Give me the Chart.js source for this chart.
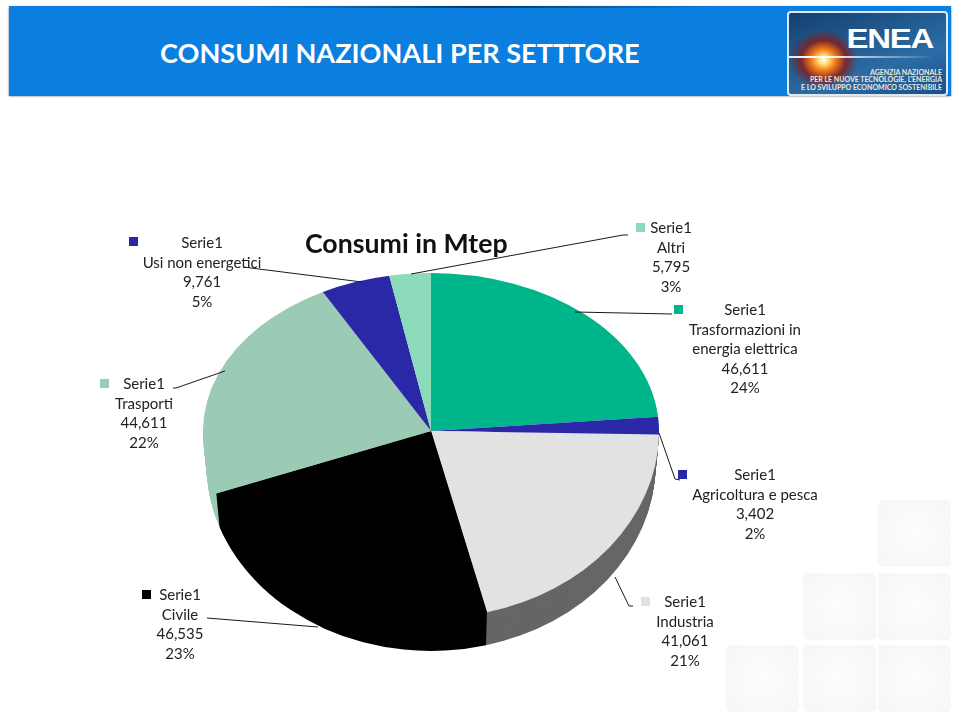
<!DOCTYPE html>
<html>
<head>
<meta charset="utf-8">
<title>Consumi nazionali per settore</title>
<script src="https://cdn.jsdelivr.net/npm/chart.js"></script>
<style>
    html, body { margin: 0; padding: 0; background: #fff; }
    #page { position: relative; width: 960px; height: 716px; overflow: hidden; font-family: Lato, sans-serif; color: #222; }
    #page > * { position: absolute; }
    #chart { left: 0; top: 0; }
    #band { left: 9px; top: 7px; width: 942px; height: 89px; background: #0a7fe0; box-shadow: 0 0 2px #567; }
    #band-edge { left: 9px; top: 6px; width: 942px; height: 2px; background: linear-gradient(90deg, #0a7fe0 25%, #0b3a5c 50%, #0a7fe0 75%); }
    #heading { left: 160px; top: 36px; color: #fff; font-size: 27.1px; line-height: 34px; font-weight: 700; white-space: nowrap; }
    #logo { left: 787px; top: 11px; width: 157px; height: 81px; border: 2px solid #dfe9f2; border-radius: 4px; overflow: hidden;
        background: radial-gradient(ellipse 34px 30px at 22% 58%, #fff 0, #ffe27a 14%, #f07a18 36%, rgba(130,30,30,.85) 66%, rgba(30,70,120,0) 100%), linear-gradient(160deg, #14406f, #2c6ca6 65%, #1b4f86); }
    #logo div { position: absolute; right: 4px; color: #eee8d8; font-size: 7px; line-height: 8px; font-weight: 700; white-space: nowrap; }
    #logo .name { top: 13px; right: 13px; color: #fff; font-family: "Liberation Sans", sans-serif; font-size: 27px; line-height: 27px; letter-spacing: -1px; transform: scaleX(1.22); transform-origin: right; }
    #logo .streak { left: 0; right: 12px; top: 43px; height: 2px; background: linear-gradient(90deg, #dfeeff, #fff 25%, rgba(255,255,255,0)); }
    #chart-title { left: 305px; top: 226px; font-size: 26.7px; line-height: 34px; font-weight: 700; color: #111; white-space: nowrap; }
    .tile { border-radius: 5px; background: radial-gradient(circle, #fcfdfd, #f5f7f7); }
    .key { width: 9px; height: 9px; }
    .lab { text-align: center; font-size: 15px; line-height: 19.5px; transform: translateX(-50%); }
</style>
</head>
<body>
<div id="page">
    <div id="band"></div>
    <div id="band-edge"></div>
    <div id="heading">CONSUMI NAZIONALI PER SETTTORE</div>
    <div id="logo">
        <div class="streak"></div>
        <div class="name">ENEA</div>
        <div style="top:55px">AGENZIA NAZIONALE</div>
        <div style="top:62px">PER LE NUOVE TECNOLOGIE, L'ENERGIA</div>
        <div style="top:70px">E LO SVILUPPO ECONOMICO SOSTENIBILE</div>
    </div>
    <canvas id="chart" width="960" height="716"></canvas>
    <div id="chart-title">Consumi in Mtep</div>
</div>
<script>
const seriesName = 'Serie1';
const categories = ['Trasformazioni in energia elettrica', 'Agricoltura e pesca', 'Industria', 'Civile', 'Trasporti', 'Usi non energetici', 'Altri'];
const consumi = [46.611, 3.402, 41.061, 46.535, 44.611, 9.761, 5.795];
const percentuali = [24, 2, 21, 23, 22, 5, 3];

const sliceColors = ['#00b58a', '#2b28a8', '#e2e2e2', '#000000', '#9ccbb5', '#2b28a8', '#8bdaba'];
const wallColors = ['#00b58a', '#2b28a8', '#666666', '#000000', '#9ccbb5', '#2b28a8', '#8bdaba'];

// label placement, same order as categories: key square, text centre, first line top
const labelSpots = [
    { key: [674, 305], cx: 745, top: 300, width: 130 },
    { key: [678, 470], cx: 755, top: 465 },
    { key: [641, 597], cx: 685, top: 592 },
    { key: [142, 590], cx: 180, top: 585 },
    { key: [100, 379], cx: 144, top: 374 },
    { key: [129, 237], cx: 202, top: 233 },
    { key: [636, 223], cx: 671, top: 218 }
];

const leaderLines = [
    [[575, 312], [672, 314]],
    [[659, 433], [675, 479], [680, 480]],
    [[615, 577], [629, 606], [633, 606]],
    [[207, 618], [318, 627]],
    [[173, 388], [176, 388], [225, 371]],
    [[243, 267], [362, 282]],
    [[411, 274], [623, 235], [628, 235]]
];

// faint squares in the slide background, bottom right
const tiles = [[878, 500], [803, 573], [878, 573], [726, 645], [803, 645], [878, 645]];

const page = document.getElementById('page');

tiles.forEach(t => {
    const el = document.createElement('div');
    el.className = 'tile';
    el.style.cssText = `left:${t[0]}px;top:${t[1]}px;width:73px;height:67px`;
    page.insertBefore(el, page.firstChild);
});

categories.forEach((name, i) => {
    const spot = labelSpots[i];
    const key = document.createElement('div');
    key.className = 'key';
    key.style.cssText = `left:${spot.key[0]}px;top:${spot.key[1]}px;background:${sliceColors[i]}`;
    page.appendChild(key);

    const lab = document.createElement('div');
    lab.className = 'lab';
    lab.style.cssText = `left:${spot.cx}px;top:${spot.top}px;` + (spot.width ? `width:${spot.width}px` : 'white-space:nowrap');
    [seriesName, name, consumi[i].toFixed(3).replace('.', ','), percentuali[i] + '%'].forEach(line => {
        const row = document.createElement('div');
        row.textContent = line;
        lab.appendChild(row);
    });
    page.appendChild(lab);
});

// The slide's pie is tilted: squashed more above the centre than below it, with a wall under the front
const tiltTop = 0.693;
const tiltBottom = 0.82;
const wallDepth = 33;
const wallNarrow = 0.985;

const tiltedPie = {
    id: 'tiltedPie',
    beforeDatasetsDraw(chart) {
        const ctx = chart.ctx;
        const arcs = chart.getDatasetMeta(0).data;
        const first = arcs[0].getProps(['x', 'y']);
        const cx = first.x, cy = first.y;

        // wall: the lower half of the pie stacked one pixel at a time, so slice edges come out vertical
        for (let dy = wallDepth; dy > 0; dy--) {
            const narrow = 1 - (1 - wallNarrow) * dy / wallDepth;
            ctx.save();
            ctx.beginPath();
            ctx.rect(0, cy + dy, chart.width, chart.height);
            ctx.clip();
            ctx.translate(cx, cy + dy);
            ctx.scale(narrow, tiltBottom);
            arcs.forEach((arc, i) => {
                const p = arc.getProps(['startAngle', 'endAngle', 'outerRadius']);
                ctx.beginPath();
                ctx.moveTo(0, 0);
                ctx.arc(0, 0, p.outerRadius, p.startAngle, p.endAngle);
                ctx.closePath();
                ctx.fillStyle = wallColors[i];
                ctx.fill();
            });
            ctx.restore();
        }

        // top surface, one half at a time
        [[0, cy, tiltTop], [cy, chart.height - cy, tiltBottom]].forEach(([y, h, tilt]) => {
            ctx.save();
            ctx.beginPath();
            ctx.rect(0, y, chart.width, h);
            ctx.clip();
            ctx.translate(cx, cy);
            ctx.scale(1, tilt);
            ctx.translate(-cx, -cy);
            arcs.forEach(arc => arc.draw(ctx));
            ctx.restore();
        });
        return false;
    },
    afterDraw(chart) {
        const ctx = chart.ctx;
        ctx.save();
        ctx.strokeStyle = '#1a1a1a';
        ctx.lineWidth = 1;
        leaderLines.forEach(line => {
            ctx.beginPath();
            line.forEach((pt, i) => i ? ctx.lineTo(pt[0], pt[1]) : ctx.moveTo(pt[0], pt[1]));
            ctx.stroke();
        });
        ctx.restore();
    }
};

new Chart(document.getElementById('chart'), {
    type: 'pie',
    data: {
        labels: categories,
        datasets: [{
            label: seriesName,
            data: consumi,
            backgroundColor: sliceColors,
            borderWidth: 0
        }]
    },
    options: {
        responsive: false,
        animation: false,
        layout: { padding: { left: 203, right: 301, top: 203, bottom: 57 } },
        plugins: {
            legend: { display: false },
            tooltip: { enabled: false }
        }
    },
    plugins: [tiltedPie]
});
</script>
</body>
</html>
